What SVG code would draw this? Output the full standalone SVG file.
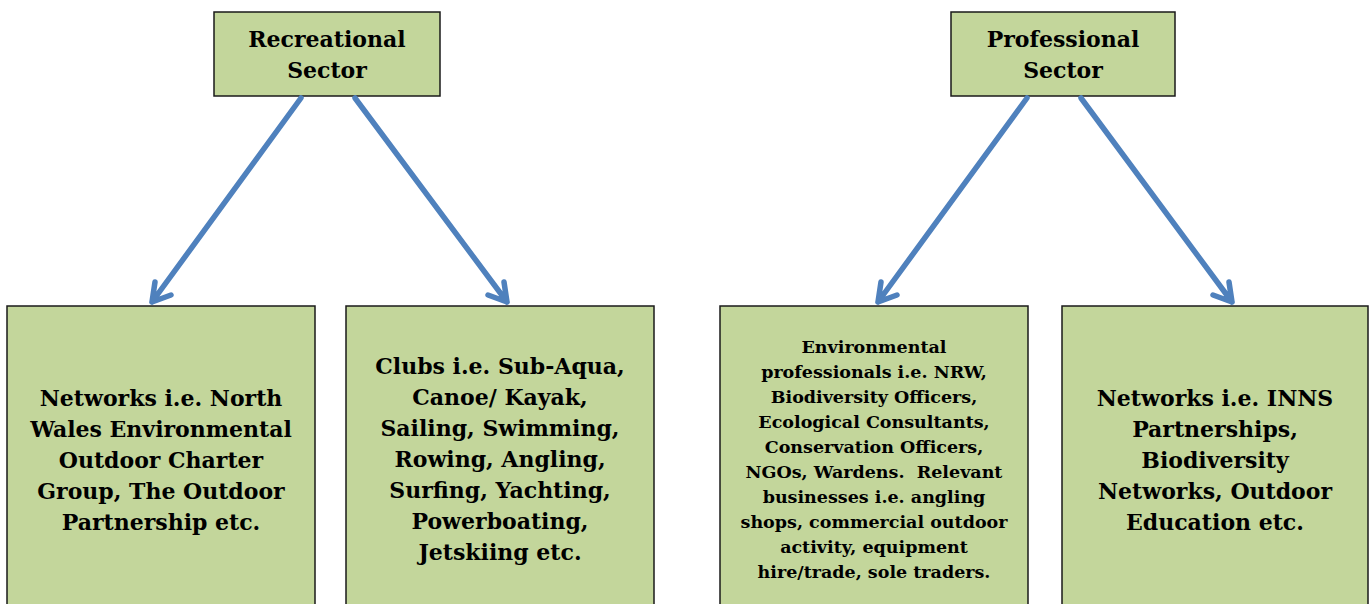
<svg xmlns="http://www.w3.org/2000/svg" width="1370" height="604" viewBox="0 0 1370 604">
<defs>
<style>
.box{fill:#c3d69b;stroke:#1a1a1a;stroke-width:1.5}
.t{font-family:"DejaVu Serif","Liberation Serif",serif;font-weight:bold;fill:#000;text-anchor:middle}
.big{font-size:22px}
.small{font-size:17.5px}
.conn{fill:none;stroke:#4f81bd;stroke-width:5.5;stroke-linecap:round;stroke-linejoin:round}
</style>
</defs>
<rect width="1370" height="604" fill="#fff"/>
<g id="recreational">
<rect class="box" x="214" y="12" width="226" height="84"/>
<text class="t big" x="327" y="47">Recreational</text>
<text class="t big" x="327" y="78">Sector</text>
</g>
<g id="professional">
<rect class="box" x="951" y="12" width="224" height="84"/>
<text class="t big" x="1063" y="47">Professional</text>
<text class="t big" x="1063" y="78">Sector</text>
</g>
<g id="networks-nw">
<rect class="box" x="7" y="306" width="308" height="310"/>
<text class="t big" x="161" y="406">Networks i.e. North</text>
<text class="t big" x="161" y="437">Wales Environmental</text>
<text class="t big" x="161" y="468">Outdoor Charter</text>
<text class="t big" x="161" y="499">Group, The Outdoor</text>
<text class="t big" x="161" y="530">Partnership etc.</text>
</g>
<g id="clubs">
<rect class="box" x="346" y="306" width="308" height="310"/>
<text class="t big" x="500" y="374">Clubs i.e. Sub-Aqua,</text>
<text class="t big" x="500" y="405">Canoe/ Kayak,</text>
<text class="t big" x="500" y="436">Sailing, Swimming,</text>
<text class="t big" x="500" y="467">Rowing, Angling,</text>
<text class="t big" x="500" y="498">Surfing, Yachting,</text>
<text class="t big" x="500" y="529">Powerboating,</text>
<text class="t big" x="500" y="560">Jetskiing etc.</text>
</g>
<g id="env-professionals">
<rect class="box" x="720" y="306" width="308" height="310"/>
<text class="t small" x="874" y="353">Environmental</text>
<text class="t small" x="874" y="378">professionals i.e. NRW,</text>
<text class="t small" x="874" y="403">Biodiversity Officers,</text>
<text class="t small" x="874" y="428">Ecological Consultants,</text>
<text class="t small" x="874" y="453">Conservation Officers,</text>
<text class="t small" x="874" y="478" xml:space="preserve">NGOs, Wardens.  Relevant</text>
<text class="t small" x="874" y="503">businesses i.e. angling</text>
<text class="t small" x="874" y="528">shops, commercial outdoor</text>
<text class="t small" x="874" y="553">activity, equipment</text>
<text class="t small" x="874" y="578">hire/trade, sole traders.</text>
</g>
<g id="networks-inns">
<rect class="box" x="1062" y="306" width="306" height="310"/>
<text class="t big" x="1215" y="406">Networks i.e. INNS</text>
<text class="t big" x="1215" y="437">Partnerships,</text>
<text class="t big" x="1215" y="468">Biodiversity</text>
<text class="t big" x="1215" y="499">Networks, Outdoor</text>
<text class="t big" x="1215" y="530">Education etc.</text>
</g>
<g id="connectors">
<path class="conn" d="M301,98 L152,302 M155,282 L152,302 L171,295"/>
<path class="conn" d="M355,98 L507,302 M504,282 L507,302 L488,295"/>
<path class="conn" d="M1027,98 L878,302 M881,282 L878,302 L897,295"/>
<path class="conn" d="M1081,98 L1232,302 M1229,282 L1232,302 L1213,295"/>
</g>
</svg>
